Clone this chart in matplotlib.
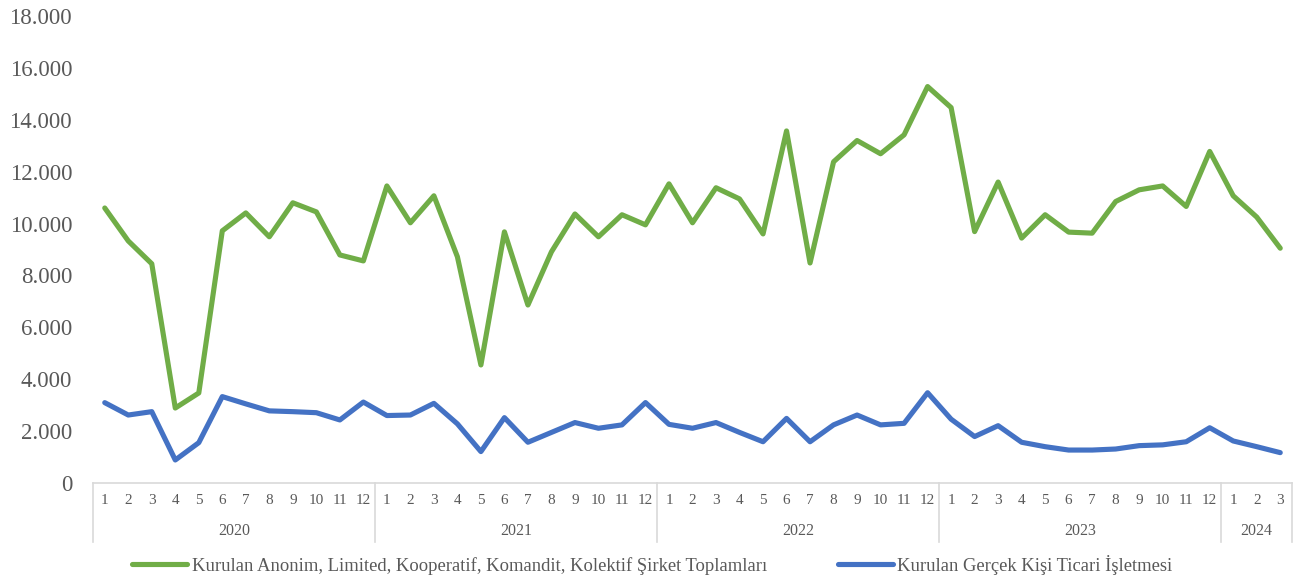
import matplotlib
matplotlib.use("Agg")
import matplotlib.pyplot as plt
from matplotlib.ticker import FuncFormatter
from matplotlib.lines import Line2D

years = ["2020", "2021", "2022", "2023", "2024"]
months_per_year = [12, 12, 12, 12, 3]

sirket = [10600, 9330, 8450, 2890, 3470, 9720, 10410, 9490, 10800, 10450, 8790, 8560,
          11450, 10030, 11070, 8720, 4550, 9680, 6860, 8910, 10370, 9490, 10340, 9950,
          11530, 10030, 11380, 10950, 9600, 13570, 8480, 12380, 13200, 12690, 13420, 15280,
          14470, 9690, 11600, 9440, 10340, 9670, 9630, 10850, 11300, 11450, 10660, 12780,
          11070, 10250, 9050]
gercek = [3097, 2620, 2750, 887, 1555, 3330, 3050, 2780, 2750, 2710, 2430, 3120,
          2600, 2620, 3070, 2280, 1210, 2520, 1570, 1950, 2330, 2110, 2240, 3100,
          2260, 2110, 2330, 1950, 1590, 2490, 1590, 2240, 2620, 2240, 2300, 3480,
          2460, 1790, 2210, 1570, 1400, 1270, 1270, 1310, 1440, 1470, 1590, 2130,
          1620, 1400, 1170]

label_sirket = "Kurulan Anonim, Limited, Kooperatif, Komandit, Kolektif Şirket Toplamları"
label_gercek = "Kurulan Gerçek Kişi Ticari İşletmesi"

plt.rcParams['font.family'] = ['Liberation Serif', 'DejaVu Serif']
green = "#70AD47"
blue = "#4472C4"
txt = "#595959"
axis_c = "#D9D9D9"

fig = plt.figure(figsize=(13.05, 5.79), dpi=100)
ax = fig.add_axes([93/1305, 1-483/579, (1292-93)/1305, (483-16)/579])

x = list(range(len(sirket)))
ax.plot(x, sirket, color=green, lw=3.7, solid_joinstyle='round', solid_capstyle='round')
ax.plot(x, gercek, color=blue, lw=3.7, solid_joinstyle='round', solid_capstyle='round')

ax.set_xlim(-0.5, len(x) - 0.5)
ax.set_ylim(0, 18000)
ax.set_yticks(range(0, 18001, 2000))
ax.yaxis.set_major_formatter(FuncFormatter(lambda v, p: f"{int(v):,}".replace(",", ".")))
ax.tick_params(axis='y', length=0, pad=15, labelsize=16.5, labelcolor=txt)

month_labels = []
for n in months_per_year:
    month_labels += [str(m) for m in range(1, n + 1)]
ax.set_xticks(x)
ax.set_xticklabels(month_labels)
ax.tick_params(axis='x', length=0, pad=8, labelsize=11, labelcolor=txt)

for s in ['top', 'right', 'left']:
    ax.spines[s].set_visible(False)
ax.spines['bottom'].set_color(axis_c)
ax.spines['bottom'].set_linewidth(1.2)

trans = ax.get_xaxis_transform()
sep_h = -(542 - 483) / 467
start = 0
bounds = [-0.5]
for y, n in zip(years, months_per_year):
    end = start + n
    bounds.append(end - 0.5)
    ax.text((start + end - 1) / 2, -48 / 467, y, transform=trans, ha='center', va='center',
            fontsize=11.5, color=txt)
    start = end
for b in bounds:
    ax.add_line(Line2D([b, b], [0, sep_h], transform=trans, color=axis_c, lw=1.2, clip_on=False))

handles = [Line2D([], [], color=green, lw=3.7, solid_capstyle='round'),
           Line2D([], [], color=blue, lw=3.7, solid_capstyle='round')]
fig.legend(handles, [label_sirket, label_gercek], loc='center', bbox_to_anchor=(0.5, 1 - 565/579),
           ncol=2, frameon=False, fontsize=13.4, handlelength=2.95, handletextpad=0.25,
           columnspacing=3.8, labelcolor=txt)

fig.savefig("out.png", dpi=100)
